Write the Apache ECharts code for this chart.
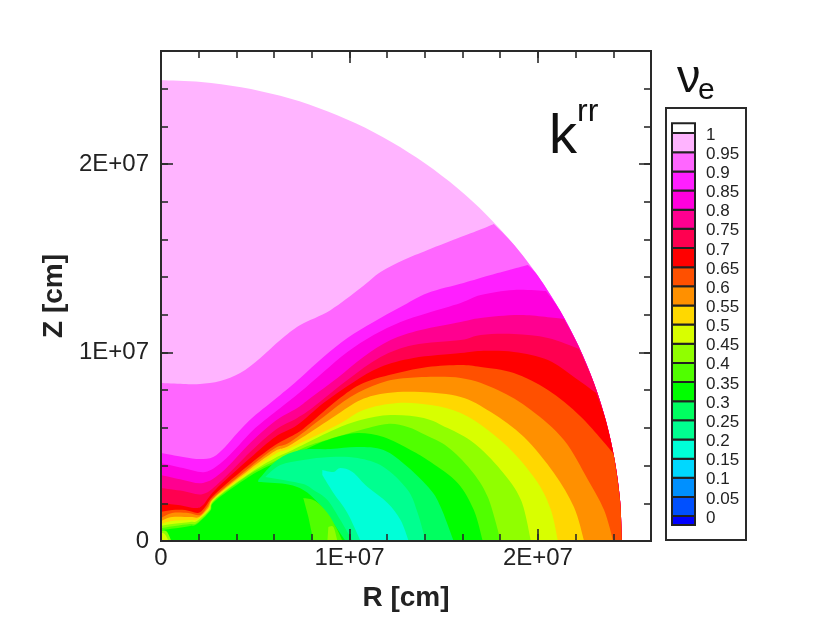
<!DOCTYPE html>
<html>
<head>
<meta charset="utf-8">
<style>html,body{margin:0;padding:0;background:#fff}#c{width:830px;height:632px;filter:blur(0.6px)}</style>
<script src="https://cdn.jsdelivr.net/npm/echarts@6/dist/echarts.min.js"></script>
</head>
<body>
<div id="c"></div>
<script>
// All contour points are [R, Z] in units of 1E+07 cm.
const UNIT = 1e7;
const axisMax = 2.6e7;
const majorStep = 1e7;
const minorStep = 2e6;
const majorTickLabels = {0: '0', 10000000: '1E+07', 20000000: '2E+07'};

const levels = [0,0.05,0.1,0.15,0.2,0.25,0.3,0.35,0.4,0.45,0.5,0.55,0.6,0.65,0.7,0.75,0.8,0.85,0.9,0.95,1];
const levelLabels = ['0','0.05','0.1','0.15','0.2','0.25','0.3','0.35','0.4','0.45','0.5','0.55','0.6','0.65','0.7','0.75','0.8','0.85','0.9','0.95','1'];
const bandColors = ['#0000ff','#0050ff','#0090ff','#00d8ff','#00ffd8','#00ff90','#00ff60','#00ff00','#50ff00','#90ff00','#d8ff00','#ffd800','#ff9000','#ff5000','#ff0000','#ff0050','#ff0090','#ff00dd','#ff1fff','#ff66ff','#ffb4ff','#ffffff'];

const surfaceArc = [[0,2.445],[.213,2.436],[.425,2.408],[.633,2.362],[.836,2.298],[1.033,2.216],[1.2225,2.117],[1.402,2.003],[1.572,1.873],[1.729,1.729],[1.873,1.572],[2.003,1.402],[2.117,1.2225],[2.216,1.033],[2.298,.836],[2.362,.633],[2.408,.425],[2.436,.213],[2.445,0]];

const contour095 = [[0,.838],[.117,.833],[.207,.833],[.314,.849],[.420,.891],[.527,.971],[.633,1.066],[.739,1.146],[.899,1.225],[1.059,1.342],[1.165,1.427],[1.287,1.491],[1.415,1.544],[1.590,1.613],[1.713,1.660],[1.766,1.682]];
const contour090 = [[0,.467],[.117,.446],[.207,.435],[.277,.446],[.340,.499],[.410,.578],[.489,.658],[.633,.775],[.739,.865],[.862,.976],[.989,1.077],[1.128,1.162],[1.271,1.241],[1.415,1.316],[1.606,1.369],[1.750,1.411],[1.947,1.464]];
const contour085 = [[0,.414],[.117,.387],[.234,.366],[.324,.419],[.410,.504],[.500,.599],[.633,.706],[.739,.790],[.862,.897],[.989,1.003],[1.128,1.093],[1.271,1.162],[1.415,1.210],[1.590,1.263],[1.697,1.305],[1.872,1.332],[2.043,1.326]];
const contour080 = [[0,.350],[.117,.324],[.223,.308],[.324,.366],[.473,.520],[.606,.637],[.723,.706],[.793,.759],[.936,.865],[1.074,.976],[1.218,1.066],[1.378,1.119],[1.590,1.162],[1.697,1.183],[1.910,1.199],[2.138,1.178]];
const contour075 = [[0,.281],[.117,.265],[.223,.249],[.324,.324],[.473,.472],[.606,.589],[.723,.653],[.809,.711],[.989,.854],[1.165,.976],[1.340,1.040],[1.590,1.066],[1.697,1.093],[1.872,1.098],[2.053,1.077],[2.218,1.019]];
const contour070 = [[0,.202],[.090,.191],[.181,.175],[.223,.191],[.287,.271],[.473,.440],[.606,.552],[.723,.615],[.862,.732],[1.021,.843],[1.165,.923],[1.340,.971],[1.590,.997],[1.697,1.008],[1.872,1.003],[2.053,.960],[2.191,.870],[2.309,.785]];
const contour065 = [[0,.154],[.059,.164],[.128,.164],[.197,.149],[.234,.180],[.287,.249],[.473,.408],[.606,.509],[.723,.573],[.793,.626],[.936,.748],[1.074,.838],[1.255,.891],[1.415,.923],[1.590,.934],[1.697,.923],[1.872,.891],[2.053,.801],[2.229,.658],[2.399,.467]];
const contour060 = [[0,.122],[.059,.149],[.144,.149],[.207,.138],[.245,.180],[.287,.239],[.473,.393],[.606,.493],[.686,.525],[.862,.658],[1.005,.764],[1.165,.838],[1.309,.865],[1.590,.865],[1.787,.801],[1.963,.695],[2.138,.536],[2.266,.324],[2.351,.164],[2.399,0]];
const contour055 = [[0,.106],[.059,.127],[.154,.127],[.202,.127],[.250,.175],[.287,.233],[.473,.382],[.606,.477],[.686,.509],[.915,.658],[1.059,.748],[1.202,.785],[1.378,.790],[1.590,.764],[1.750,.684],[1.926,.552],[2.085,.361],[2.191,.180],[2.245,0]];
const contour050 = [[0,.090],[.059,.106],[.154,.111],[.197,.117],[.255,.175],[.287,.228],[.473,.371],[.606,.462],[.686,.493],[.936,.615],[1.074,.695],[1.255,.732],[1.431,.721],[1.590,.679],[1.734,.589],[1.872,.467],[2.000,.308],[2.069,.164],[2.106,0]];
const contour045 = [[0,.080],[.059,.090],[.154,.101],[.191,.106],[.255,.164],[.287,.223],[.473,.361],[.606,.440],[.686,.477],[.915,.589],[1.059,.642],[1.218,.668],[1.394,.653],[1.521,.599],[1.660,.520],[1.803,.377],[1.910,.218],[1.963,0]];
const contour040 = [[0,.069],[.074,.080],[.154,.090],[.191,.095],[.261,.164],[.287,.218],[.473,.355],[.606,.424],[.686,.456],[.793,.509],[1.059,.589],[1.202,.621],[1.309,.605],[1.404,.562],[1.521,.499],[1.644,.377],[1.734,.233],[1.803,0]];
const contour035 = [[0,.058],[.090,.069],[.154,.080],[.191,.090],[.261,.159],[.287,.212],[.473,.345],[.606,.414],[.686,.440],[.793,.499],[.915,.546],[1.043,.573],[1.181,.552],[1.324,.483],[1.431,.419],[1.574,.308],[1.660,.164],[1.707,0]];

const pocket025 = [[.516,.324],[.617,.430],[.739,.483],[.899,.488],[1.043,.499],[1.181,.483],[1.309,.393],[1.431,.271],[1.484,.180],[1.553,0]];
const pocket025Lower = [[.979,0],[.910,.101],[.835,.202],[.755,.271],[.660,.302],[.516,.313]];
const pocket020 = [[.553,.340],[.633,.403],[.755,.430],[.899,.446],[1.043,.440],[1.181,.393],[1.309,.271],[1.362,.149],[1.404,0]];
const pocket020Lower = [[1.016,0],[.952,.111],[.883,.218],[.809,.271],[.755,.302],[.649,.324]];
const pocket015 = [[.856,.377],[.915,.366],[.952,.387],[1.016,.366],[1.096,.286],[1.202,.202],[1.271,.111],[1.314,0]];
const pocket015Lower = [[1.059,0],[.989,.149],[.915,.255],[.856,.350]];
const blob035 = [[.755,.228],[.819,.212],[.883,.149],[.931,.069],[.963,0]];
const blob035Lower = [[.809,0],[.782,.127]];
const blob040 = [[.888,.074],[.915,.074],[.936,0]];
const blob040Lower = [[.883,0]];
const cornerBlob040 = [[0,.055],[.03,.05],[.055,0]];
const cornerBlob045 = [[0,.045],[.022,.035],[.04,0]];
const originPoint = [[0,0]];

const legendEdgeShift = 0.005;
const legendBottom = -0.018;
const legendTop = 1.031;

// ---------- building ----------
// A layer is a list of runs: the curve is smooth inside a run and has a sharp corner between runs.
function closedBySurface(line, band) {
  const end = line[line.length - 1];
  const endAngle = Math.atan2(end[0], end[1]);
  const rest = surfaceArc.filter(p => Math.atan2(p[0], p[1]) > endAngle + 1e-6);
  return {runs: rest.length ? [line, [end].concat(rest), originPoint] : [line, originPoint], band};
}
const layers = [
  {runs: [surfaceArc, originPoint], band: 20},
  closedBySurface(contour095, 19),
  closedBySurface(contour090, 18),
  closedBySurface(contour085, 17),
  closedBySurface(contour080, 16),
  closedBySurface(contour075, 15),
  closedBySurface(contour070, 14),
  closedBySurface(contour065, 13),
  closedBySurface(contour060, 12),
  closedBySurface(contour055, 11),
  closedBySurface(contour050, 10),
  closedBySurface(contour045, 9),
  closedBySurface(contour040, 8),
  closedBySurface(contour035, 7),
  {runs: [pocket025, pocket025Lower], band: 6},
  {runs: [pocket020, pocket020Lower], band: 5},
  {runs: [pocket015, pocket015Lower], band: 4},
  {runs: [blob035, blob035Lower], band: 8},
  {runs: [blob040, blob040Lower], band: 9},
  {runs: [cornerBlob040, originPoint], band: 9},
  {runs: [cornerBlob045, originPoint], band: 10}
];

function smoothPath(runs, api) {
  let d = '';
  runs.forEach((run, ri) => {
    const p = run.map(q => api.coord([q[0] * UNIT, q[1] * UNIT]));
    d += (ri === 0 ? 'M' : 'L') + p[0][0] + ' ' + p[0][1];
    for (let i = 0; i < p.length - 1; i++) {
      const a = p[Math.max(i - 1, 0)], b = p[i], c = p[i + 1], e = p[Math.min(i + 2, p.length - 1)];
      const k = 1 / 6;
      d += 'C' + (b[0] + (c[0] - a[0]) * k) + ' ' + (b[1] + (c[1] - a[1]) * k) + ' ' +
           (c[0] - (e[0] - b[0]) * k) + ' ' + (c[1] - (e[1] - b[1]) * k) + ' ' + c[0] + ' ' + c[1];
    }
  });
  return d + 'Z';
}

const legendEdges = [legendBottom].concat(levels.map(v => v + legendEdgeShift), [legendTop]);

const FONT = '"Liberation Sans", Arial, sans-serif';
const lineStyle = {color: '#2a2a2a', width: 2};
function mainAxis(position, step, tickLen, withLabels, name) {
  const isX = position === 'bottom' || position === 'top';
  const a = {
    type: 'value', gridIndex: 0, position, min: 0, max: axisMax, interval: step, z: 10,
    splitLine: {show: false},
    axisLine: {show: true, onZero: false, lineStyle},
    axisTick: {show: true, inside: true, length: tickLen, lineStyle: {color: '#2a2a2a', width: 1.6}},
    axisLabel: {show: false}
  };
  if (withLabels) {
    a.axisLabel = {
      show: true, margin: isX ? 5 : 12, fontFamily: FONT, fontSize: 24, color: '#222',
      showMaxLabel: false,
      padding: isX ? 0 : [3, 0, 0, 0],
      formatter: v => majorTickLabels[v] !== undefined ? majorTickLabels[v] : ''
    };
    a.name = name;
    a.nameLocation = 'middle';
    a.nameGap = isX ? 43 : 74;
    a.nameTextStyle = {fontFamily: FONT, fontSize: 28, fontWeight: 'bold', color: '#222'};
  }
  return a;
}

const option = {
  animation: false,
  backgroundColor: '#fff',
  grid: [
    {left: 161, top: 51, width: 490, height: 490, containLabel: false},
    {left: 672, width: 23, top: 115.85, height: 421.3, containLabel: false}
  ],
  xAxis: [
    mainAxis('bottom', majorStep, 12, true, 'R [cm]'),
    mainAxis('bottom', minorStep, 7, false),
    mainAxis('top', majorStep, 12, false),
    mainAxis('top', minorStep, 7, false),
    {type: 'value', gridIndex: 1, min: 0, max: 1, show: false}
  ],
  yAxis: [
    mainAxis('left', majorStep, 12, true, 'Z [cm]'),
    mainAxis('left', minorStep, 7, false),
    mainAxis('right', majorStep, 12, false),
    mainAxis('right', minorStep, 7, false),
    {
      type: 'value', gridIndex: 1, min: -0.05, max: 1.05, interval: 0.05, position: 'right',
      splitLine: {show: false}, axisLine: {show: false}, axisTick: {show: false},
      axisLabel: {
        show: true, margin: 11, fontFamily: FONT, fontSize: 17, color: '#222',
        formatter: v => {
          const i = levels.findIndex(l => Math.abs(l - v) < 1e-6);
          return i >= 0 ? levelLabels[i] : '';
        }
      }
    }
  ],
  series: [
    {
      type: 'custom', silent: true, coordinateSystem: 'cartesian2d', z: 1,
      xAxisIndex: 0, yAxisIndex: 0, clip: true,
      data: layers.map((l, i) => [i, 0]),
      renderItem: (params, api) => {
        const l = layers[params.dataIndex];
        return {
          type: 'path',
          shape: {pathData: smoothPath(l.runs, api)},
          style: {fill: bandColors[l.band], stroke: null}
        };
      }
    },
    {
      type: 'custom', silent: true, coordinateSystem: 'cartesian2d',
      xAxisIndex: 4, yAxisIndex: 4, clip: false,
      data: bandColors.map((c, i) => [i, 0]),
      renderItem: (params, api) => {
        const i = params.dataIndex;
        const a = api.coord([0, legendEdges[i + 1]]);
        const b = api.coord([1, legendEdges[i]]);
        return {
          type: 'rect',
          shape: {x: a[0], y: a[1], width: b[0] - a[0], height: b[1] - a[1]},
          style: {fill: bandColors[i], stroke: '#222', lineWidth: 2}
        };
      }
    }
  ],
  graphic: [
    {type: 'rect', z: -1, shape: {x: 666, y: 108, width: 80, height: 432}, style: {fill: '#fff', stroke: '#2a2a2a', lineWidth: 2}},
    {type: 'text', left: 549, top: 110, style: {text: 'k', fontFamily: FONT, fontSize: 56, fill: '#111'}},
    {type: 'text', left: 577, top: 96, style: {text: 'rr', fontFamily: FONT, fontSize: 32, fill: '#111'}},
    {type: 'text', left: 677, top: 56, style: {text: 'ν', fontFamily: FONT, fontSize: 47, fill: '#111'}},
    {type: 'text', left: 698, top: 76, style: {text: 'e', fontFamily: FONT, fontSize: 30, fill: '#111'}}
  ]
};
const chart = echarts.init(document.getElementById('c'), null, {renderer: 'canvas'});
chart.setOption(option);
</script>
</body>
</html>
